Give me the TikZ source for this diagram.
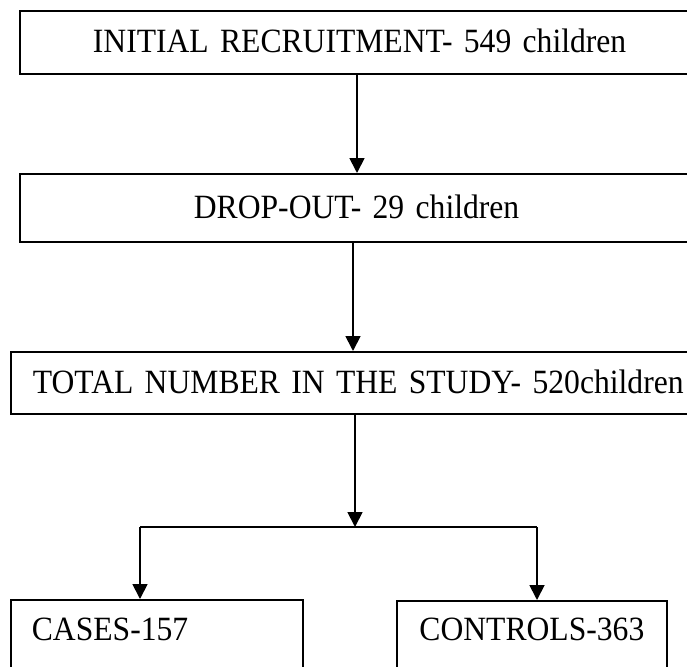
\documentclass[tikz,border=0pt]{standalone}
\usepackage{fontspec}
\setmainfont[FakeStretch=0.93, WordSpace=0.75]{Liberation Serif}
\usetikzlibrary{positioning,arrows.meta,calc}

\begin{document}
\begin{tikzpicture}[
  x=1pt, y=-1pt,
  blk/.style={draw, line width=1.8pt, anchor=north west, inner ysep=0pt,
              align=left, font=\fontsize{34}{40}\selectfont},
  arr/.style={-{Triangle[length=15pt, width=15pt]}, line width=1.8pt},
]
  \useasboundingbox (0,0) rectangle (687,666);
  \clip (0,0) rectangle (687,666);

  \node[blk, minimum width=720pt, minimum height=63pt, inner xsep=73pt,
        text width=574pt, text depth=3pt] (init) at (19,10)
        {INITIAL RECRUITMENT- 549 children};
  \node[blk, minimum width=720pt, minimum height=68pt, inner xsep=174pt,
        text width=372pt, text depth=2pt] (drop) at (19,173)
        {DROP-OUT- 29 children};
  \node[blk, minimum width=720pt, minimum height=62pt, inner xsep=22pt,
        text width=676pt, text depth=2pt] (total) at (10,351)
        {TOTAL NUMBER IN THE STUDY- 520children};
  \node[blk, minimum width=292pt, minimum height=90pt, inner xsep=21pt,
        text width=250pt, text depth=32pt] (cases) at (10,599)
        {CASES-157};
  \node[blk, minimum width=270pt, minimum height=90pt, inner xsep=2pt,
        text width=266pt, text depth=34pt, align=center] (ctrl) at (396,600)
        {CONTROLS-363};

  \coordinate (c1) at (357,0);
  \coordinate (c2) at (353,0);
  \coordinate (c3) at (355,527);
  \coordinate (bl) at (140,527);
  \coordinate (br) at (537,527);

  \draw[arr] (init.south -| c1) -- (drop.north -| c1);
  \draw[arr] (drop.south -| c2) -- (total.north -| c2);
  \draw[arr] (total.south -| c3) -- (c3);
  \draw[line width=1.8pt] (bl) -- (br);
  \draw[arr] (bl) -- (cases.north -| bl);
  \draw[arr] (br) -- (ctrl.north -| br);
\end{tikzpicture}
\end{document}
